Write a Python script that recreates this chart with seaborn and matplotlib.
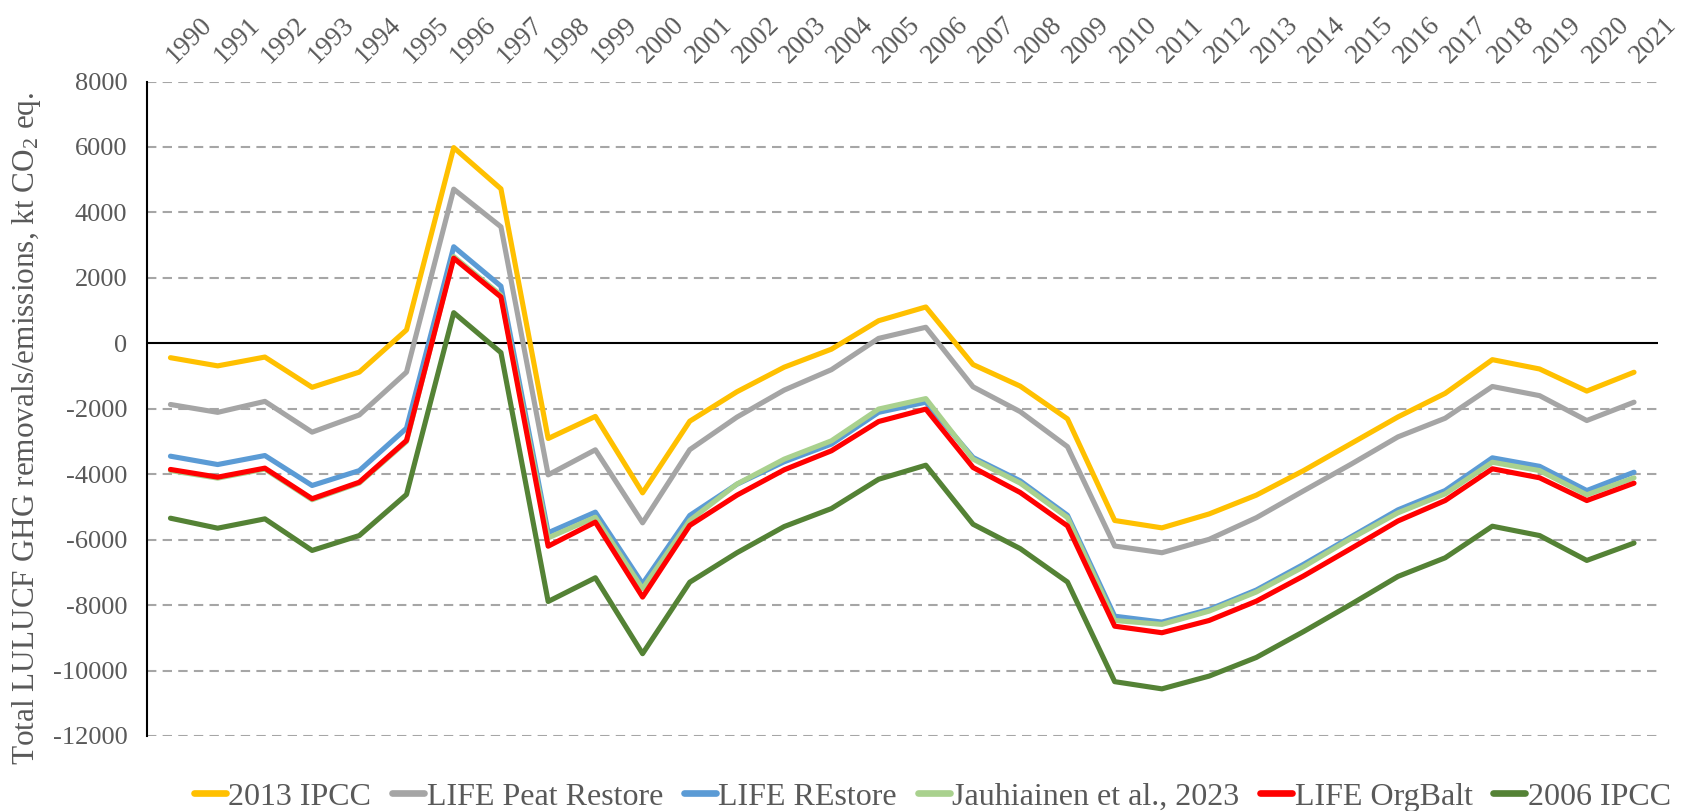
import numpy as np
import pandas as pd
import matplotlib
matplotlib.use("Agg")
import matplotlib.pyplot as plt
import seaborn as sns

years = list(range(1990, 2022))

ipcc_2013 = [-440, -690, -420, -1345, -880, 410, 5980, 4720, -2910, -2235, -4570, -2380,
             -1480, -730, -180, 690, 1110, -650, -1310, -2310, -5415, -5640, -5215, -4640,
             -3890, -3070, -2250, -1530, -500, -785, -1460, -885]
peat_restore = [-1870, -2110, -1775, -2715, -2190, -880, 4710, 3560, -4020, -3255, -5486, -3250,
                -2255, -1430, -806, 150, 490, -1330, -2090, -3160, -6195, -6400, -5990, -5330,
                -4510, -3700, -2860, -2290, -1320, -1600, -2360, -1800]
restore = [-3450, -3705, -3430, -4345, -3890, -2595, 2950, 1745, -5790, -5160, -7350, -5260,
           -4306, -3620, -3080, -2110, -1800, -3490, -4205, -5255, -8340, -8520, -8135, -7540,
           -6755, -5920, -5090, -4500, -3500, -3760, -4500, -3940]
jauhiainen = [-3890, -4120, -3845, -4780, -4270, -3000, 2650, 1470, -5945, -5315, -7500, -5415,
              -4300, -3540, -2980, -2010, -1690, -3540, -4275, -5325, -8470, -8590, -8185, -7600,
              -6830, -5970, -5180, -4600, -3635, -3890, -4630, -4110]
orgbalt = [-3855, -4090, -3815, -4750, -4245, -2970, 2600, 1415, -6200, -5465, -7755, -5565,
           -4640, -3865, -3285, -2390, -2010, -3795, -4560, -5580, -8645, -8845, -8470, -7880,
           -7110, -6276, -5430, -4805, -3835, -4110, -4805, -4275]
ipcc_2006 = [-5345, -5650, -5365, -6330, -5875, -4620, 935, -285, -7890, -7165, -9485, -7300,
             -6400, -5600, -5050, -4155, -3725, -5530, -6275, -7295, -10340, -10560, -10170, -9600,
             -8810, -7980, -7125, -6555, -5590, -5875, -6635, -6105]

series_names = ["2013 IPCC", "LIFE Peat Restore", "LIFE REstore",
                "Jauhiainen et al., 2023", "LIFE OrgBalt", "2006 IPCC"]
series_values = [ipcc_2013, peat_restore, restore, jauhiainen, orgbalt, ipcc_2006]
colors = ["#FFC000", "#A5A5A5", "#5B9BD5", "#A9D18E", "#FF0000", "#548235"]

y_ticks = list(range(-12000, 8001, 2000))

df = pd.DataFrame({
    "year": years * len(series_names),
    "value": [v for vals in series_values for v in vals],
    "series": [n for n in series_names for _ in years],
})

sns.set_theme(style="white")
plt.rcParams["font.family"] = ["Liberation Serif", "DejaVu Serif"]
plt.rcParams["mathtext.default"] = "regular"

text_gray = "#595959"

fig = plt.figure(figsize=(16.88, 8.11), dpi=100)
ax = fig.add_axes([0.087, 0.0925, 0.895, 0.807])

# grid first so the lines sit on top
for t in y_ticks:
    if t != 0:
        ax.axhline(t, color="#A6A6A6", lw=1.5, ls=(0, (4.5, 3)), zorder=0)
ax.axhline(0, color="black", lw=1.5, zorder=1)

sns.lineplot(data=df, x="year", y="value", hue="series", hue_order=series_names,
             palette=colors, linewidth=3.7, ax=ax, sort=False)

ax.set_xlim(years[0] - 0.5, years[-1] + 0.5)
ax.set_ylim(-12000, 8000)
ax.set_yticks(y_ticks)
ax.set_yticklabels([str(t) for t in y_ticks], fontsize=19, color=text_gray)

ax.xaxis.tick_top()
ax.set_xticks(years)
ax.set_xticklabels([str(y) for y in years], fontsize=19.5, color=text_gray,
                   rotation=45, ha="left", va="center", rotation_mode="anchor")
ax.tick_params(axis="x", length=0, pad=16)
ax.tick_params(axis="y", length=0, pad=14)
ax.set_xlabel("")

ax.set_ylabel(r"Total LULUCF GHG removals/emissions, kt CO$_2$ eq.",
              fontsize=22.5, color=text_gray)
ax.yaxis.set_label_coords(-0.069, 0.47)

for side in ["top", "right", "bottom"]:
    ax.spines[side].set_visible(False)
ax.spines["left"].set_color("black")
ax.spines["left"].set_linewidth(1.5)

handles, labels = ax.get_legend_handles_labels()
leg = ax.legend(handles, labels, loc="center", bbox_to_anchor=(0.52, -0.093), ncol=6,
                frameon=False, fontsize=23, labelcolor=text_gray, handlelength=1.0,
                handletextpad=0.08, columnspacing=0.65)
for h in leg.get_lines():
    h.set_linewidth(4.8)

fig.savefig("out.png", dpi=100)
